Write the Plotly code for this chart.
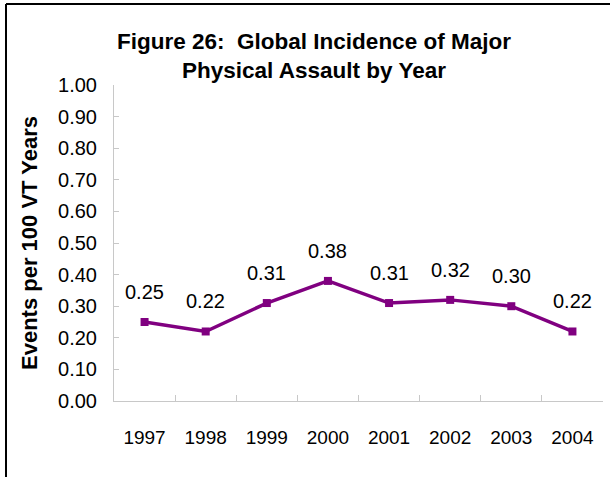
import plotly.graph_objects as go

# Incidence of major physical assault, events per 100 VT years
years = ["1997", "1998", "1999", "2000", "2001", "2002", "2003", "2004"]
rates = [0.25, 0.22, 0.31, 0.38, 0.31, 0.32, 0.30, 0.22]
y_ticks = [0.0, 0.1, 0.2, 0.3, 0.4, 0.5, 0.6, 0.7, 0.8, 0.9, 1.0]

FONT = "Liberation Sans, Arial, sans-serif"
PURPLE = "#800080"
AXIS_GREY = "#c8c8c8"

fig = go.Figure()
fig.add_trace(go.Scatter(
    x=years, y=rates, mode="lines+markers",
    line=dict(color=PURPLE, width=3.5),
    marker=dict(symbol="square", size=8, color=PURPLE),
    hoverinfo="skip", showlegend=False,
))

# value labels above each point (x given as category index)
for i, v in enumerate(rates):
    fig.add_annotation(x=i, y=v, xref="x", yref="y", text=f"{v:.2f}",
                       showarrow=False, yshift=30,
                       font=dict(family=FONT, size=20, color="black"))

# plot frame: left and top rules
W, H = 610, 477
L, R, T, B = 114, 7, 85, 76
pw, ph = W - L - R, H - T - B
def px(x):
    return (x - L) / pw
def py(y):
    return (H - B - y) / ph
fig.add_shape(type="line", xref="paper", yref="paper",
              x0=px(6), x1=px(640), y0=py(4), y1=py(4),
              line=dict(color="black", width=2))
fig.add_shape(type="line", xref="paper", yref="paper",
              x0=px(6), x1=px(6), y0=py(4), y1=py(490),
              line=dict(color="black", width=2))

fig.update_layout(
    width=W, height=H,
    margin=dict(l=L, r=R, t=T, b=B),
    paper_bgcolor="white", plot_bgcolor="white",
    font=dict(family=FONT, color="black"),
    title=dict(text="<b>Figure 26:&nbsp; Global Incidence of Major<br>Physical Assault by Year</b>",
               x=314 / W, xanchor="center", y=1 - 49 / H, yanchor="top",
               font=dict(family=FONT, size=22.5, color="black")),
    xaxis=dict(
        type="category", tickson="boundaries", ticks="inside", ticklen=6,
        tickcolor=AXIS_GREY, showline=True, linecolor=AXIS_GREY, linewidth=1,
        showgrid=False, zeroline=False, ticklabelstandoff=19,
        tickfont=dict(family=FONT, size=19, color="black"),
        range=[-0.5, len(years) - 0.5],
    ),
    yaxis=dict(
        range=[0, 1.0], tickvals=y_ticks, ticktext=[f"{t:.2f}" for t in y_ticks],
        ticks="inside", ticklen=5, tickcolor=AXIS_GREY,
        showline=True, linecolor=AXIS_GREY, linewidth=1,
        showgrid=False, zeroline=False, ticklabelstandoff=12,
        tickfont=dict(family=FONT, size=20, color="black"),
        title=dict(text="<b>Events per 100 VT Years</b>", standoff=14,
                   font=dict(family=FONT, size=22, color="black")),
    ),
)

fig.write_html("out.html")
